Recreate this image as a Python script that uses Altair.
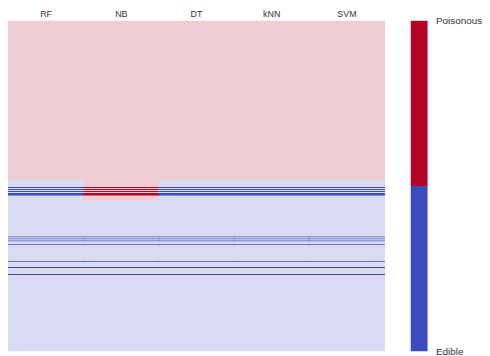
import altair as alt
import pandas as pd

# ---- data ----
models = ["RF", "NB", "DT", "kNN", "SVM"]
n_total = 334            # samples (rows), top block = Poisonous, rest = Edible
n_poisonous = 161
highlight_rows = [168, 170, 172, 174, 175, 176, 218, 220, 222, 226, 243, 249, 256]
# rows of true Edible samples that each model predicts as Poisonous
false_poisonous = {
    "RF": [],
    "NB": list(range(161, 182)),
    "DT": [],
    "kNN": [],
    "SVM": [],
}
class_labels = ["Edible", "Poisonous"]

# ---- build run-length table ----
records = []
for i, m in enumerate(models):
    prev = None
    start = 0
    for r in range(n_total + 1):
        if r < n_total:
            cls = "Poisonous" if (r < n_poisonous or r in false_poisonous[m]) else "Edible"
            hl = "dark" if r in highlight_rows else "light"
            key = cls + " " + hl
        else:
            key = None
        if key != prev:
            if prev is not None:
                records.append({"model": m, "c0": i, "c1": i + 1,
                                "start": start, "end": r, "shade": prev})
            prev = key
            start = r
df = pd.DataFrame(records)

shade_domain = ["Poisonous light", "Edible light", "Poisonous dark", "Edible dark"]
shade_range = ["#f0cdd4", "#d8dbf2", "#b40426", "#3b4cc0"]
shade_scale = alt.Scale(domain=shade_domain, range=shade_range)

label_js = "[" + ",".join("'" + m + "'" for m in models) + "][floor(datum.value)]"

heat = alt.Chart(df).mark_rect(x2Offset=1).encode(
    x=alt.X("c0:Q", scale=alt.Scale(domain=[0, len(models)], nice=False, zero=False),
            axis=alt.Axis(orient="top", title=None, ticks=False, domain=False, grid=False,
                          values=[i + 0.5 for i in range(len(models))],
                          labelExpr=label_js, labelFlush=False, labelOverlap=False,
                          labelAngle=0, labelFontSize=9, labelPadding=2.5,
                          labelColor="#333333", labelFont="Liberation Sans")),
    x2="c1:Q",
    y=alt.Y("start:Q", scale=alt.Scale(domain=[0, n_total], reverse=True, nice=False, zero=False),
            axis=None),
    y2="end:Q",
    color=alt.Color("shade:N", scale=shade_scale, legend=None),
).properties(width=380, height=334)

cb_df = pd.DataFrame({
    "cls": class_labels,
    "lo": [0.0, 0.5],
    "hi": [0.5, 1.0],
})
colorbar = alt.Chart(cb_df).transform_calculate(
    shade="datum.cls + ' dark'"
).mark_rect().encode(
    y=alt.Y("lo:Q", scale=alt.Scale(domain=[0, 1], nice=False),
            axis=alt.Axis(orient="right", title=None, ticks=False, domain=False, grid=False,
                          values=[0, 1], labelFlush=False, labelOverlap=False,
                          labelExpr="datum.value == 1 ? 'Poisonous' : 'Edible'",
                          labelFontSize=10, labelPadding=8, labelColor="#333333",
                          labelFont="Liberation Sans")),
    y2="hi:Q",
    color=alt.Color("shade:N", scale=shade_scale, legend=None),
).properties(width=17, height=334)

chart = alt.hconcat(heat, colorbar, spacing=27, bounds="flush").properties(
    padding={"top": -1, "left": 0, "right": 0, "bottom": 0}
).configure_view(strokeWidth=0)

chart.save("out.html", embed_options={"renderer": "svg", "actions": False})
